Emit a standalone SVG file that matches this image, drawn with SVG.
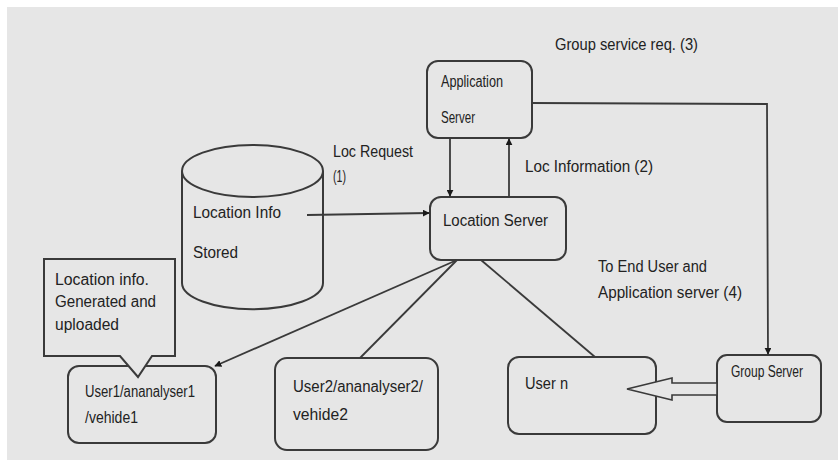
<svg xmlns="http://www.w3.org/2000/svg" width="838" height="468" viewBox="0 0 838 468">
<style>
.box{fill:#e6e6e6;stroke:#3a3a3a;stroke-width:2}
.ln{fill:none;stroke:#3a3a3a;stroke-width:1.8}
text{font-family:"Liberation Sans",Arial,sans-serif;fill:#222222;font-size:16px}
</style>
<defs>
<marker id="ah" viewBox="0 0 10 10" refX="9" refY="5" markerWidth="7" markerHeight="7" markerUnits="userSpaceOnUse" orient="auto">
<path d="M0,0 L10,5 L0,10 Z" fill="#1a1a1a"/>
</marker>
</defs>
<rect x="0" y="0" width="838" height="468" fill="#ffffff"/>
<rect x="7" y="7" width="831" height="453" fill="#e6e6e6"/>

<g id="app-server">
<rect class="box" x="427" y="61" width="105" height="77" rx="11"/>
<text x="441" y="87" font-size="14" textLength="62" lengthAdjust="spacingAndGlyphs">Application</text>
<text x="441" y="123" font-size="14" textLength="34" lengthAdjust="spacingAndGlyphs">Server</text>
</g>

<g id="location-server">
<rect class="box" x="430" y="197" width="136" height="63" rx="11"/>
<text x="443" y="226" font-size="17" textLength="105" lengthAdjust="spacingAndGlyphs">Location Server</text>
</g>

<g id="location-store">
<path class="box" d="M182,171 L182,283 A70,26 0 0 0 323,283 L323,171"/>
<ellipse class="box" cx="252.5" cy="171" rx="70.5" ry="26"/>
<text x="193" y="218" textLength="88" lengthAdjust="spacingAndGlyphs">Location Info</text>
<text x="193" y="258" textLength="45" lengthAdjust="spacingAndGlyphs">Stored</text>
</g>

<g id="group-server">
<rect class="box" x="717" y="355" width="104" height="67" rx="10"/>
<text x="731" y="377" font-size="13" textLength="72" lengthAdjust="spacingAndGlyphs">Group Server</text>
</g>

<g id="user-n">
<rect class="box" x="508" y="357" width="148" height="77" rx="11"/>
<text x="525" y="389" font-size="17" textLength="43" lengthAdjust="spacingAndGlyphs">User n</text>
</g>

<g id="user1">
<rect class="box" x="68" y="366" width="148" height="77" rx="11"/>
<text x="85" y="397" textLength="110" lengthAdjust="spacingAndGlyphs">User1/ananalyser1</text>
<text x="85" y="423" textLength="53" lengthAdjust="spacingAndGlyphs">/vehide1</text>
</g>

<g id="user2">
<rect class="box" x="275" y="358" width="163" height="92" rx="12"/>
<text x="293" y="392" font-size="17" textLength="130" lengthAdjust="spacingAndGlyphs">User2/ananalyser2/</text>
<text x="293" y="420" font-size="17" textLength="55" lengthAdjust="spacingAndGlyphs">vehide2</text>
</g>

<g id="callout">
<path class="box" d="M120,356 L44,356 L44,259 L175,259 L175,356 L152,356 L138,377 Z"/>
<text x="55" y="285" textLength="94" lengthAdjust="spacingAndGlyphs">Location info.</text>
<text x="55" y="307" textLength="101" lengthAdjust="spacingAndGlyphs">Generated and</text>
<text x="55" y="330" textLength="64" lengthAdjust="spacingAndGlyphs">uploaded</text>
</g>

<g id="labels">
<text x="555" y="50" textLength="143" lengthAdjust="spacingAndGlyphs">Group service req. (3)</text>
<text x="333" y="157" textLength="80" lengthAdjust="spacingAndGlyphs">Loc Request</text>
<text x="333" y="182" textLength="13" lengthAdjust="spacingAndGlyphs">(1)</text>
<text x="525" y="172" textLength="128" lengthAdjust="spacingAndGlyphs">Loc Information (2)</text>
<text x="598" y="272" textLength="109" lengthAdjust="spacingAndGlyphs">To End User and</text>
<text x="598" y="298" textLength="144" lengthAdjust="spacingAndGlyphs">Application server (4)</text>
</g>

<g id="connectors">
<line class="ln" x1="450" y1="138" x2="450" y2="196" marker-end="url(#ah)"/>
<line class="ln" x1="509" y1="197" x2="509" y2="139" marker-end="url(#ah)"/>
<polyline class="ln" points="532,103 767,104 768,354" marker-end="url(#ah)"/>
<line class="ln" x1="307" y1="215" x2="429" y2="213" marker-end="url(#ah)"/>
<line class="ln" x1="457" y1="260" x2="215" y2="366" marker-end="url(#ah)"/>
<line class="ln" x1="457" y1="260" x2="360" y2="358"/>
<line class="ln" x1="481" y1="260" x2="595" y2="357"/>
<polygon points="717,383 672,383 672,378 627,389 672,400 672,395 717,395" fill="#e6e6e6" stroke="#3a3a3a" stroke-width="1.6"/>
</g>
</svg>
